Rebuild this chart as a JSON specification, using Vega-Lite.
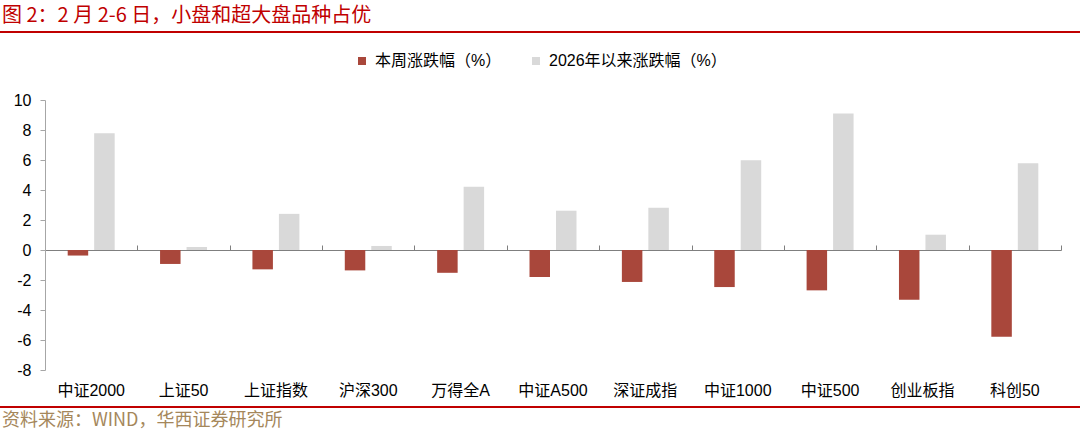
{
  "$schema": "https://vega.github.io/schema/vega-lite/v6.json",
  "width": 1016,
  "height": 270,
  "autosize": {"type": "none"},
  "padding": {"left": 45, "top": 100, "right": 19, "bottom": 61},
  "background": "white",
  "config": {"view": {"stroke": null}, "font": "Liberation Sans, Noto Sans CJK SC",
    "axisY": {"tickCount": 10, "labelOverlap": false, "grid": false, "domainColor": "#a6a6a6", "tickColor": "#a6a6a6", "tickSize": 5, "labelFontSize": 16, "labelColor": "#000000", "labelPadding": 9, "labelFont": "Liberation Sans"}},
  "data": {"values": [
    {"cat": "中证2000", "series": "本周涨跌幅（%）", "value": -0.37},
    {"cat": "中证2000", "series": "2026年以来涨跌幅（%）", "value": 7.78},
    {"cat": "上证50", "series": "本周涨跌幅（%）", "value": -0.93},
    {"cat": "上证50", "series": "2026年以来涨跌幅（%）", "value": 0.2},
    {"cat": "上证指数", "series": "本周涨跌幅（%）", "value": -1.29},
    {"cat": "上证指数", "series": "2026年以来涨跌幅（%）", "value": 2.41},
    {"cat": "沪深300", "series": "本周涨跌幅（%）", "value": -1.36},
    {"cat": "沪深300", "series": "2026年以来涨跌幅（%）", "value": 0.27},
    {"cat": "万得全A", "series": "本周涨跌幅（%）", "value": -1.52},
    {"cat": "万得全A", "series": "2026年以来涨跌幅（%）", "value": 4.22},
    {"cat": "中证A500", "series": "本周涨跌幅（%）", "value": -1.8},
    {"cat": "中证A500", "series": "2026年以来涨跌幅（%）", "value": 2.62},
    {"cat": "深证成指", "series": "本周涨跌幅（%）", "value": -2.13},
    {"cat": "深证成指", "series": "2026年以来涨跌幅（%）", "value": 2.82},
    {"cat": "中证1000", "series": "本周涨跌幅（%）", "value": -2.47},
    {"cat": "中证1000", "series": "2026年以来涨跌幅（%）", "value": 5.98},
    {"cat": "中证500", "series": "本周涨跌幅（%）", "value": -2.69},
    {"cat": "中证500", "series": "2026年以来涨跌幅（%）", "value": 9.1},
    {"cat": "创业板指", "series": "本周涨跌幅（%）", "value": -3.31},
    {"cat": "创业板指", "series": "2026年以来涨跌幅（%）", "value": 1.02},
    {"cat": "科创50", "series": "本周涨跌幅（%）", "value": -5.78},
    {"cat": "科创50", "series": "2026年以来涨跌幅（%）", "value": 5.78}
  ]},
  "resolve": {"scale": {"x": "independent"}},
  "layer": [
    {
      "mark": {"type": "bar", "strokeWidth": 0},
      "encoding": {
        "x": {"field": "cat", "type": "nominal", "sort": null,
          "scale": {"type": "band", "paddingInner": 0, "paddingOuter": 0},
          "axis": {"orient": "bottom", "offset": -120, "labels": false, "title": null, "domain": true, "domainColor": "#7f7f7f", "domainWidth": 1, "ticks": true, "tickBand": "extent", "tickSize": -5, "tickColor": "#7f7f7f", "grid": false}},
        "xOffset": {"field": "series", "type": "nominal", "sort": null,
          "scale": {"domain": ["本周涨跌幅（%）", "2026年以来涨跌幅（%）"], "paddingInner": 0.226, "paddingOuter": 0.857}},
        "y": {"field": "value", "type": "quantitative",
          "scale": {"domain": [-8, 10], "nice": false, "zero": false},
          "axis": {"values": [-8, -6, -4, -2, 0, 2, 4, 6, 8, 10], "labelExpr": "'' + datum.value", "labelOverlap": false, "title": null}},
        "color": {"field": "series", "type": "nominal",
          "scale": {"domain": ["本周涨跌幅（%）", "2026年以来涨跌幅（%）"], "range": ["#A9473B", "#D9D9D9"]},
          "legend": {"title": null, "orient": "none", "legendX": 309, "legendY": -47, "direction": "horizontal", "symbolType": "square", "symbolSize": 64, "symbolStrokeWidth": 0, "labelFontSize": 16, "labelLimit": 400, "labelColor": "#000000", "labelFont": "Liberation Sans, Noto Sans CJK SC", "columnPadding": 26, "labelOffset": 5}}
      }
    },
    {
      "mark": {"type": "point", "opacity": 0},
      "encoding": {
        "x": {"field": "cat", "type": "nominal", "sort": null,
          "scale": {"type": "band", "paddingInner": 0, "paddingOuter": 0},
          "axis": {"orient": "bottom", "title": null, "domain": false, "ticks": false, "grid": false, "labelAngle": 0, "labelFontSize": 16, "labelColor": "#000000", "labelPadding": 12, "labelFont": "Liberation Sans, Noto Sans CJK SC"}},
        "y": {"datum": 0, "axis": {"values": [-8, -6, -4, -2, 0, 2, 4, 6, 8, 10], "labelExpr": "'' + datum.value", "labelOverlap": false, "title": null}}
      }
    },
    {
      "data": {"values": [{"pos": 14.53}, {"pos": -10.47}]},
      "mark": {"type": "rule", "color": "#C00000", "strokeWidth": 2},
      "encoding": {
        "x": {"datum": -0.0443, "type": "quantitative", "scale": {"domain": [0, 1]}, "axis": null},
        "x2": {"datum": 1.0187},
        "y": {"field": "pos", "type": "quantitative", "axis": {"values": [-8, -6, -4, -2, 0, 2, 4, 6, 8, 10], "labelExpr": "'' + datum.value", "labelOverlap": false, "title": null}}
      }
    },
    {
      "data": {"values": [{"label": "图 2：2 月 2-6 日，小盘和超大盘品种占优"}]},
      "mark": {"type": "text", "align": "left", "baseline": "middle", "fontSize": 20, "color": "#C00000", "font": "Noto Sans CJK SC"},
      "encoding": {
        "x": {"datum": -0.0423, "type": "quantitative", "scale": {"domain": [0, 1]}, "axis": null},
        "y": {"datum": 15.6, "axis": {"values": [-8, -6, -4, -2, 0, 2, 4, 6, 8, 10], "labelExpr": "'' + datum.value", "labelOverlap": false, "title": null}},
        "text": {"field": "label"}
      }
    },
    {
      "data": {"values": [{"label": "资料来源：WIND，华西证券研究所"}]},
      "mark": {"type": "text", "align": "left", "baseline": "middle", "fontSize": 18, "color": "#A5875B", "font": "Noto Sans CJK SC"},
      "encoding": {
        "x": {"datum": -0.0423, "type": "quantitative", "scale": {"domain": [0, 1]}, "axis": null},
        "y": {"datum": -11.4, "axis": {"values": [-8, -6, -4, -2, 0, 2, 4, 6, 8, 10], "labelExpr": "'' + datum.value", "labelOverlap": false, "title": null}},
        "text": {"field": "label"}
      }
    }
  ]
}
